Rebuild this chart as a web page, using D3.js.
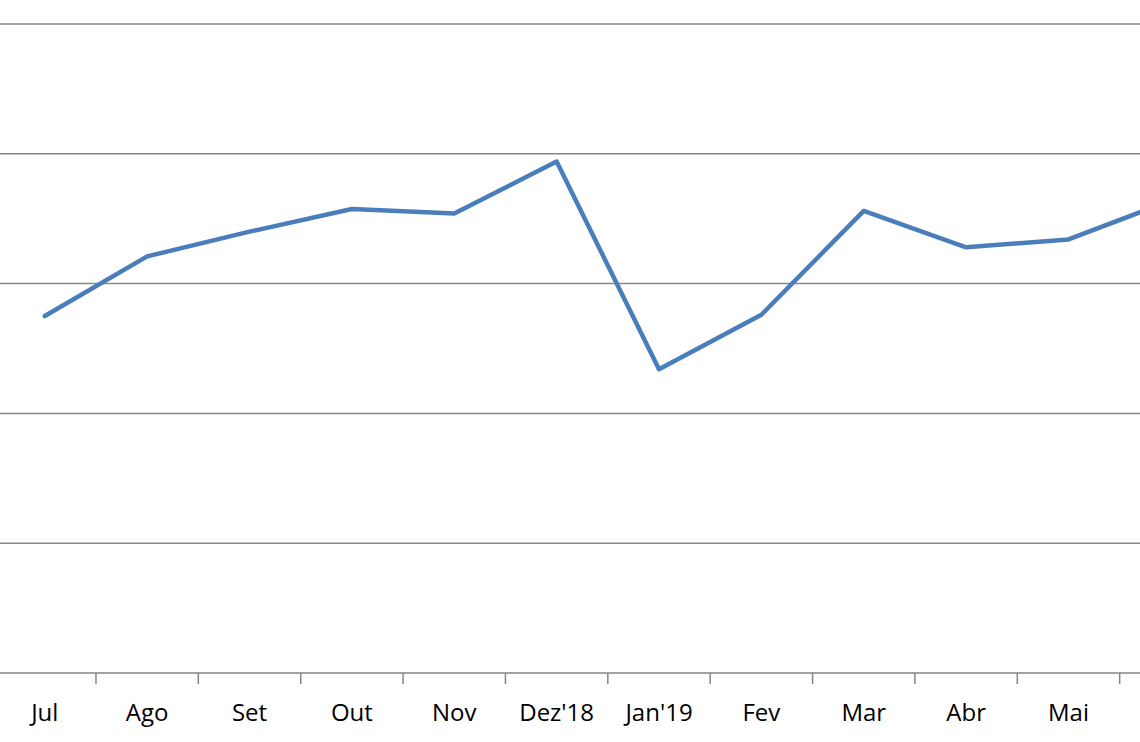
<!DOCTYPE html>
<html>
<head>
<meta charset="utf-8">
<script src="https://cdn.jsdelivr.net/npm/d3@7"></script>
<style>
  html, body { margin: 0; padding: 0; background: #fff; overflow: hidden; }
  svg { display: block; }
</style>
</head>
<body>
<div id="chart"></div>
<script>
// data (units: one gridline step = 1)
var months = ["Jul", "Ago", "Set", "Out", "Nov", "Dez'18", "Jan'19", "Fev", "Mar", "Abr", "Mai", "Jun"];
var values = [2.75, 3.21, 3.40, 3.575, 3.54, 3.94, 2.34, 2.76, 3.56, 3.28, 3.34, 3.64];
var gridTicks = [0, 1, 2, 3, 4, 5];

var W = 1140, H = 742;
var band = 102.37;
var plotLeft = -6.4;
var plotTop = 24, plotBottom = 673;

var svg = d3.select("#chart")
    .append("svg")
    .attr("width", W)
    .attr("height", H);

var x = d3.scaleBand()
    .domain(months)
    .range([plotLeft, plotLeft + band * months.length]);

var y = d3.scaleLinear()
    .domain([0, 5])
    .range([plotBottom, plotTop]);

// gridlines
svg.append("g")
    .selectAll("line")
    .data(gridTicks)
    .enter()
    .append("line")
    .attr("x1", 0)
    .attr("x2", W)
    .attr("y1", function(d) { return y(d); })
    .attr("y2", function(d) { return y(d); })
    .attr("stroke", "#868686")
    .attr("stroke-width", 1.5);

// category tick marks between months
svg.append("g")
    .selectAll("line")
    .data(months)
    .enter()
    .append("line")
    .attr("x1", function(d) { return x(d) + x.bandwidth(); })
    .attr("x2", function(d) { return x(d) + x.bandwidth(); })
    .attr("y1", plotBottom)
    .attr("y2", plotBottom + 11)
    .attr("stroke", "#868686")
    .attr("stroke-width", 1.5);

// axis labels (only the ones inside the window, like the reference)
var visible = months.filter(function(d) { return x(d) + x.bandwidth() / 2 < W; });
var xAxis = svg.append("g")
    .attr("transform", "translate(0," + plotBottom + ")")
    .call(d3.axisBottom(x).tickValues(visible).tickSize(0).tickPadding(0));
xAxis.select(".domain").remove();
xAxis.selectAll("text")
    .attr("y", 48)
    .attr("dy", null)
    .attr("fill", "#000")
    .style("font-family", "'Open Sans', 'Liberation Sans', sans-serif")
    .style("font-size", "24px");

// line
var line = d3.line()
    .x(function(d, i) { return x(months[i]) + x.bandwidth() / 2; })
    .y(function(d) { return y(d); });

svg.append("path")
    .datum(values)
    .attr("d", line)
    .attr("fill", "none")
    .attr("stroke", "#4a7ebb")
    .attr("stroke-width", 4.5)
    .attr("stroke-linejoin", "round")
    .attr("stroke-linecap", "round");
</script>
</body>
</html>
